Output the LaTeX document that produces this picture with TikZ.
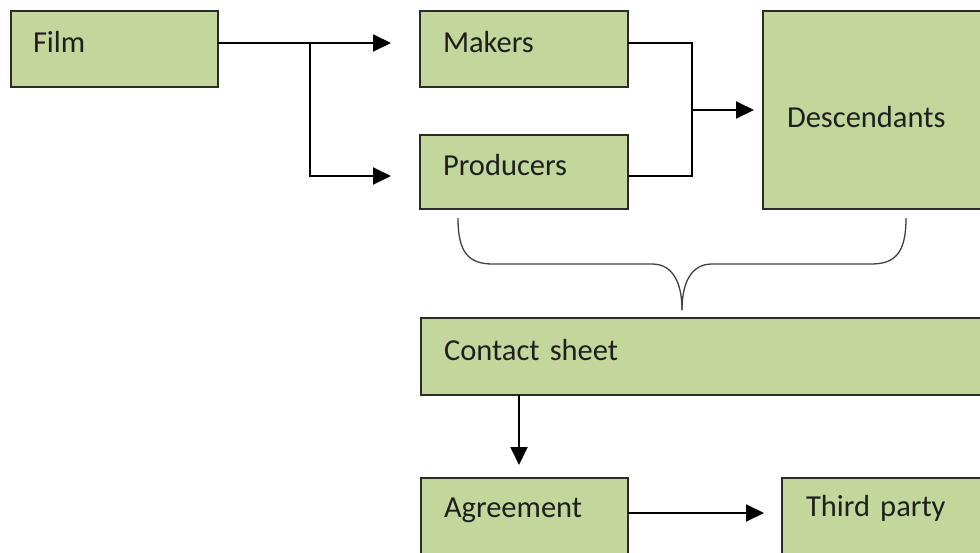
\documentclass[tikz,border=0pt]{standalone}
\usepackage{fontspec}
\setmainfont{Carlito}
\usetikzlibrary{arrows.meta,calc}
\definecolor{boxgreen}{HTML}{C3D69B}
\definecolor{edgegray}{HTML}{2B2B2B}
\newcommand\myboxfont{\fontsize{30.5pt}{36pt}\selectfont\spaceskip=4pt plus 1pt\relax}
\begin{document}
\begin{tikzpicture}[x=1pt,y=-1pt,
  box/.style={draw=edgegray, line width=1.4pt, fill=boxgreen, anchor=north west,
    outer sep=0pt, inner ysep=0pt, align=left,
    font=\myboxfont, text=black!88},
  conn/.style={draw=black, line width=1.9pt, line join=miter},
  arr/.style={conn, -{Triangle[length=18pt,width=17pt]}},
  bracestyle/.style={draw=black!75, line width=1.3pt}]
\useasboundingbox (0,0) rectangle (980,552);

\node[box, minimum width=207pt, minimum height=76pt, inner xsep=22pt, text width=163pt,
  text height=14pt, text depth=8pt] (film) at (11,11) {Film};
\node[box, minimum width=208pt, minimum height=76pt, inner xsep=23pt, text width=162pt,
  text height=14pt, text depth=8pt] (makers) at (420,11) {Makers};
\node[box, minimum width=208pt, minimum height=74pt, inner xsep=23pt, text width=162pt,
  text height=14pt, text depth=8pt] (producers) at (420,135) {Producers};
\node[box, minimum width=240pt, minimum height=198pt, inner xsep=24pt, text width=192pt,
  text height=40pt, text depth=6pt] (descendants) at (763,11) {Descendants};
\node[box, minimum width=600pt, minimum height=77pt, inner xsep=23pt, text width=554pt,
  text height=15pt, text depth=8pt] (contact) at (421,318) {Contact sheet};
\node[box, minimum width=207pt, minimum height=78pt, inner xsep=23pt, text width=161pt,
  text height=10pt, text depth=10pt] (agreement) at (421,478) {Agreement};
\node[box, minimum width=240pt, minimum height=78pt, inner xsep=24pt, text width=192pt,
  text height=10pt, text depth=12pt] (third) at (782,478) {Third party};

% Film -> Makers / Producers
\coordinate (fo) at ($(film.north east)+(0,32)$);
\coordinate (jn) at ($(film.north east)+(92,32)$);
\draw[arr] (fo) -- ($(makers.north west)+(-29,32)$);
\draw[arr] (jn) |- ($(producers.north west)+(-29,41)$);

% Makers / Producers -> Descendants
\coordinate (mj) at ($(descendants.north west)+(-71,99)$);
\draw[conn] ($(makers.north east)+(0,32)$) -| (mj) |- ($(producers.north east)+(0,41)$);
\draw[arr] (mj) -- ($(descendants.north west)+(-9,99)$);

% brace
\draw[bracestyle] (458,218) .. controls (458,252) and (468,264) .. (493,264) -- (652,264)
  .. controls (673,264) and (682,283) .. (682,310);
\draw[bracestyle] (906,218) .. controls (906,252) and (896,264) .. (871,264) -- (712,264)
  .. controls (691,264) and (682,283) .. (682,310);

% Contact sheet -> Agreement -> Third party
\draw[arr] ($(contact.south west)+(98,0)$) -- ($(agreement.north west)+(98,-13)$);
\draw[arr] ($(agreement.north east)+(0,35)$) -- ($(third.north west)+(-18,35)$);
\end{tikzpicture}
\end{document}
